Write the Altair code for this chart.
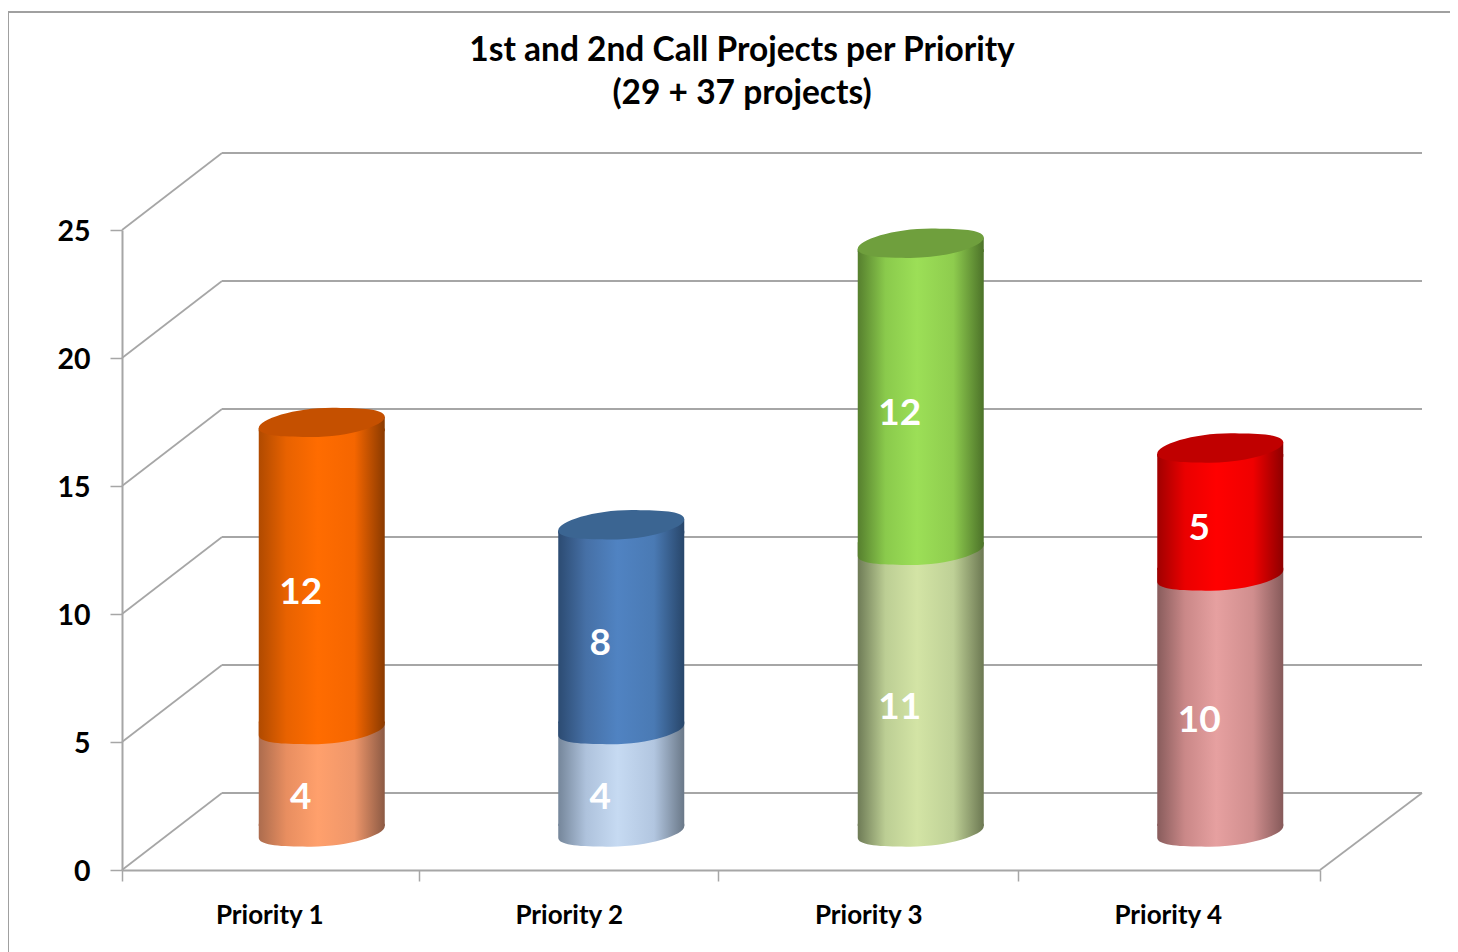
import altair as alt
import pandas as pd

categories = ["Priority 1", "Priority 2", "Priority 3", "Priority 4"]
first_call = [4, 4, 11, 10]
second_call = [12, 8, 12, 5]
y_ticks = [0, 5, 10, 15, 20, 25]
x_edges = [0, 0.99, 1.99, 2.99, 4]
title_lines = ["1st and 2nd Call Projects per Priority", "(29 + 37 projects)"]

# (left edge, left mid, centre, right mid, right edge), cap colour
upper_colors = [
    (["#B04A00", "#E86200", "#FF6C00", "#F56600", "#8A3A00"], "#C55000"),
    (["#2C4B72", "#4670A6", "#5083C2", "#4A7AB4", "#28466A"], "#3B6592"),
    (["#567F2E", "#8ACA4C", "#9CDF57", "#8ECC4E", "#4C7229"], "#6F9F3D"),
    (["#A00000", "#EA0000", "#FF0000", "#F00000", "#8E0000"], "#C00000"),
]
lower_colors = [
    ["#AC6C4E", "#E88E60", "#FFA06C", "#EE966A", "#8C5A44"],
    ["#75869A", "#AEC2DC", "#C6DAF2", "#B2C6E0", "#6A7888"],
    ["#6E7B56", "#BCCE94", "#D3E4A5", "#BED096", "#6C7852"],
    ["#885C5C", "#CA8888", "#E6A0A0", "#D08E8E", "#865A5A"],
]

GRID = "#A6A6A6"
FONT = "Lato"
DX, DY = 100, -77
MID_X, MID_Y = 50, -38
SKEW = 6
BAR_W = 126

BOTTOM_SHAPE = "M-1,-0.13 L1,-0.13 L1,-0.09 C1,0.06 0.35,0.26 -0.3,0.23 C-0.7,0.23 -1,0.2 -1,0.09 Z"
WEDGE_SHAPE = "M-1,0.14 L-1,0.09 L1,-0.09 L1,0.14 Z"
CAP_SHAPE = ("M-1,0.09 C-1,-0.06 -0.35,-0.26 0.3,-0.23 C0.7,-0.23 1,-0.2 1,-0.09 "
             "C1,0.06 0.35,0.26 -0.3,0.23 C-0.7,0.23 -1,0.2 -1,0.09 Z")


def grad(stops):
    return alt.Gradient(
        gradient="linear", x1=0, x2=1, y1=0, y2=0,
        stops=[alt.GradientStop(color=c, offset=o)
               for c, o in zip(stops, [0, 0.22, 0.47, 0.76, 1])],
    )


rows = []
for i, cat in enumerate(categories):
    a, b = first_call[i], second_call[i]
    rows.append(dict(cat=cat, idx=i, pos=i + 0.5, part="lower", start=0, end=a, mid=a / 2, label=a))
    rows.append(dict(cat=cat, idx=i, pos=i + 0.5, part="upper", start=a, end=a + b, mid=a + b / 2, label=b))
df = pd.DataFrame(rows)
grid_df = pd.DataFrame({"v": y_ticks})
cat_df = pd.DataFrame({"cat": categories, "pos": [i + 0.5 for i in range(len(categories))], "v": 0})

x_scale = alt.Scale(domain=[0, 4], range=[0, 1198], nice=False, zero=False, padding=0)
y_scale = alt.Scale(domain=[0, 25], range=[718, 78], nice=False, zero=False, padding=0)
x_axis = alt.Axis(values=x_edges, labels=False, title=None, grid=False, domainColor=GRID, domainWidth=2,
                  tickColor=GRID, tickWidth=1.5, tickSize=11)
y_axis = alt.Axis(values=y_ticks, title=None, grid=False, domainColor=GRID, domainWidth=2,
                  tickColor=GRID, tickWidth=1.5, tickSize=12, labelFont=FONT, labelFontSize=28.5,
                  labelFontWeight="bold", labelColor="#000000", labelPadding=20, labelOffset=1)


def qx(field):
    return alt.X(field, scale=x_scale, axis=x_axis)


def qy(field):
    return alt.Y(field, scale=y_scale, axis=y_axis)


layers = []

# back wall lines
layers.append(alt.Chart(grid_df).transform_calculate(a="0", b="4").mark_rule(
    color=GRID, strokeWidth=2.2, xOffset=DX, x2Offset=DX + 2, yOffset=DY).encode(
    x=qx("a:Q"), x2="b:Q", y=qy("v:Q")))
# side wall diagonals
layers.append(alt.Chart(grid_df).transform_calculate(a="0").mark_rule(
    color=GRID, strokeWidth=1.7, x2Offset=DX, y2Offset=DY).encode(
    x=qx("a:Q"), x2="a:Q", y=qy("v:Q"), y2="v:Q"))
# floor right edge
layers.append(alt.Chart(grid_df).transform_filter("datum.v == 0").transform_calculate(a="4").mark_rule(
    color=GRID, strokeWidth=1.7, x2Offset=DX + 2, y2Offset=DY).encode(
    x=qx("a:Q"), x2="a:Q", y=qy("v:Q"), y2="v:Q"))

# cylinders
for i, cat in enumerate(categories):
    lo = df[(df.idx == i) & (df.part == "lower")]
    up = df[(df.idx == i) & (df.part == "upper")]
    up_stops, cap = upper_colors[i]
    lo_grad = grad(lower_colors[i])
    up_grad = grad(up_stops)

    layers.append(alt.Chart(lo).mark_bar(
        fill=lo_grad, size=BAR_W, orient="vertical", xOffset=MID_X,
        yOffset=MID_Y - SKEW, y2Offset=MID_Y - SKEW).encode(x=qx("pos:Q"), y=qy("start:Q"), y2="end:Q"))
    layers.append(alt.Chart(lo).mark_point(
        shape=BOTTOM_SHAPE, filled=True, fill=lo_grad, opacity=1, strokeWidth=0, size=BAR_W ** 2,
        xOffset=MID_X, yOffset=MID_Y).encode(x=qx("pos:Q"), y=qy("start:Q")))
    layers.append(alt.Chart(up).mark_bar(
        fill=up_grad, size=BAR_W, orient="vertical", xOffset=MID_X,
        yOffset=MID_Y - SKEW, y2Offset=MID_Y + SKEW).encode(x=qx("pos:Q"), y=qy("start:Q"), y2="end:Q"))
    layers.append(alt.Chart(up).mark_point(
        shape=BOTTOM_SHAPE, filled=True, fill=up_grad, opacity=1, strokeWidth=0, size=BAR_W ** 2,
        xOffset=MID_X, yOffset=MID_Y).encode(x=qx("pos:Q"), y=qy("start:Q")))
    layers.append(alt.Chart(up).mark_point(
        shape=WEDGE_SHAPE, filled=True, fill=up_grad, opacity=1, strokeWidth=0, size=BAR_W ** 2,
        xOffset=MID_X, yOffset=MID_Y).encode(x=qx("pos:Q"), y=qy("end:Q")))
    layers.append(alt.Chart(up).mark_point(
        shape=CAP_SHAPE, filled=True, fill=cap, opacity=1, strokeWidth=0, size=BAR_W ** 2,
        xOffset=MID_X, yOffset=MID_Y).encode(x=qx("pos:Q"), y=qy("end:Q")))

# value labels
layers.append(alt.Chart(df).mark_text(
    font=FONT, fontSize=37, fontWeight="bold", color="#FFFFFF", dx=29, dy=-21, baseline="middle").encode(
    x=qx("pos:Q"), y=qy("mid:Q"), text="label:Q"))

# category labels
layers.append(alt.Chart(cat_df).mark_text(
    font=FONT, fontSize=26, fontWeight="bold", color="#000000", dx=-2, dy=46, baseline="middle").encode(
    x=qx("pos:Q"), y=qy("v:Q"), text="cat:N"))

# title, two lines
for line, top in zip(title_lines, [-101, -58]):
    layers.append(alt.Chart(pd.DataFrame({"t": [line]})).mark_text(
        font=FONT, fontSize=33.5, fontWeight="bold", color="#000000", baseline="middle", align="center").encode(
        x=alt.value(620), y=alt.value(top), text="t:N"))

# outer frame of the picture
layers.append(alt.Chart(grid_df).mark_rule(color="#A0A0A0", strokeWidth=1.5).encode(
    x=alt.value(-114), y=alt.value(-140), y2=alt.value(804)))
layers.append(alt.Chart(grid_df).mark_rule(color="#A0A0A0", strokeWidth=1.5).encode(
    x=alt.value(-114), x2=alt.value(1328), y=alt.value(-140)))

chart = alt.layer(*layers).resolve_scale(x="shared", y="shared").properties(
    width=1300,
    height=718,
    padding={"left": 114, "top": 144, "right": 28, "bottom": 82},
    autosize=alt.AutoSizeParams(type="none"),
    background="#FFFFFF",
).configure_view(stroke=None)

chart.save("out.html", embed_options={"renderer": "svg", "actions": False})
